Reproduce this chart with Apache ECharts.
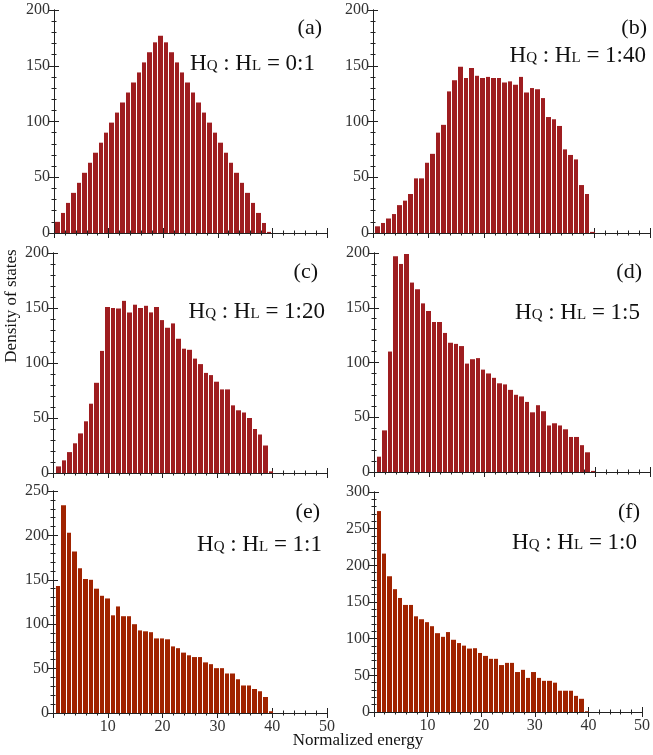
<!DOCTYPE html>
<html><head><meta charset="utf-8">
<script src="https://cdn.jsdelivr.net/npm/echarts@6/dist/echarts.min.js"></script>
<style>html,body{margin:0;padding:0;background:#fff}#c{width:653px;height:755px}</style>
</head><body><div id="c"></div>
<script>
// ---------------- data ----------------
const panelLetters = ['(a)', '(b)', '(c)', '(d)', '(e)', '(f)'];
const ratioLabels = ['0:1', '1:40', '1:20', '1:5', '1:1', '1:0'];
const yMaxes = [200, 200, 200, 200, 250, 300];
const xTickMax = 50;
const densityA = [10,18,27,36,45,54,63,72,81,90,99,108,117,126,135,144,153,162,171,177,171,162,153,144,135,126,117,108,99,90,81,72,63,54,45,36,27,18,9,1];
const densityB = [6,9,13,17,25,29,35,49,49,63,71,90,97,127,137,149,139,148,141,139,140,139,139,135,136,133,140,126,130,129,121,104,102,96,75,70,66,43,35,1];
const densityC = [6,11.5,19,27,36,47,63,82,111,151,150,149.5,156.5,146,153,150,152,146,151,139,132,136,122,113,112,104,99,91,89,83,76,76,61.5,57,55,50,40,35,25,1.5];
const densityD = [14,38,110,197,190,199,173,167,154,147,137,137,127,118,117,115,99,103,104,93.5,90,86,81,80,75,70.5,69,64,54.5,61,55.5,42.5,44.5,42.5,39,32,32,24.5,18,1];
const densityE = [143,234,203,182,163,151,150,140,132,129,110,120,109,109,100,93,92,91,84,84,83,75,73,68,65,63,63,57,55,50.5,50.5,44.5,44.5,38,31,31,27,24.5,18,2];
const densityF = [274,216,185,167.5,155.5,146,146,130.5,126.5,122.5,117,107.5,102.5,109,98.5,94,90.5,86.5,87,80.5,76.5,72.5,72.5,64,67,67,54.5,57.5,46.5,54.5,46.5,42.5,42.5,40,29,29,29,22,18,1];
const densities = [densityA, densityB, densityC, densityD, densityE, densityF];
const binStarts = [0.2, 0.42, 0.6, 0.48, 0.55, 0.48];
const binWidth = 0.995;

// ---------------- layout / style ----------------
const grids = [
  {left: 54, top: 10, width: 273, height: 223},
  {left: 373, top: 10, width: 277, height: 223},
  {left: 53, top: 253, width: 274, height: 220},
  {left: 374, top: 253, width: 276, height: 219},
  {left: 53, top: 491, width: 274, height: 222},
  {left: 374, top: 492, width: 276, height: 220}
];
const barColors = ['#9e1d20', '#9e1d20', '#9e1d20', '#9e1d20', '#a02300', '#a02300'];
const serif = 'Liberation Serif, Times New Roman, serif';
const lineCol = '#222';
const ratioPos = [[315, 64], [646, 56], [325, 312], [640, 313], [322, 545], [637, 543]];
const letterPos = [[322, 28], [647, 28], [318, 272], [642, 272], [320, 512], [640, 512]];

const xAxes = [], yAxes = [], series = [], graphics = [];
grids.forEach((g, i) => {
  const common = {
    gridIndex: i, type: 'value', min: 0,
    axisLine: {show: true, lineStyle: {color: lineCol, width: 1}},
    axisTick: {show: true, inside: true, length: 5, lineStyle: {color: lineCol}},
    minorTick: {show: true, splitNumber: 5, length: 2.5, lineStyle: {color: lineCol}},
    splitLine: {show: false},
    minorSplitLine: {show: false}
  };
  xAxes.push(Object.assign({}, common, {
    position: 'bottom', max: xTickMax, interval: 10,
    axisLabel: {show: i >= 4, showMinLabel: false, fontFamily: serif, fontSize: 16, color: '#333', margin: 6}
  }));
  xAxes.push(Object.assign({}, common, {
    position: 'top', max: xTickMax, interval: 10, axisLabel: {show: false}
  }));
  yAxes.push(Object.assign({}, common, {
    position: 'left', max: yMaxes[i], interval: 50,
    axisLabel: {show: true, fontFamily: serif, fontSize: 16, color: '#333', margin: 4}
  }));
  yAxes.push(Object.assign({}, common, {
    position: 'right', max: yMaxes[i], interval: 50, axisLabel: {show: false}
  }));
  const vals = densities[i];
  const color = barColors[i];
  series.push({
    type: 'custom',
    xAxisIndex: 2 * i, yAxisIndex: 2 * i,
    clip: true,
    encode: {x: [0, 1], y: 2},
    data: vals.map((v, k) => [binStarts[i] + k * binWidth, binStarts[i] + (k + 1) * binWidth, v]),
    renderItem(params, api) {
      const p0 = api.coord([api.value(0), api.value(2)]);
      const p1 = api.coord([api.value(1), 0]);
      const xa = Math.round(p0[0]);
      const xb = Math.round(p1[0]) - 1;
      return {
        type: 'rect',
        shape: {x: xa, y: p0[1], width: Math.max(xb - xa, 1), height: p1[1] - p0[1]},
        style: {fill: color}
      };
    }
  });
  graphics.push({
    type: 'text', x: ratioPos[i][0], y: ratioPos[i][1], z: 100,
    style: {
      text: '{h|H}{s|Q}{h| : H}{s|L}{h| = ' + ratioLabels[i] + '}',
      align: 'right', verticalAlign: 'middle',
      rich: {
        h: {fontFamily: serif, fontSize: 23, fill: '#111', verticalAlign: 'bottom'},
        s: {fontFamily: serif, fontSize: 15, fill: '#111', verticalAlign: 'bottom', padding: [0, 0, 2, 0]}
      }
    }
  });
  graphics.push({
    type: 'text', x: letterPos[i][0], y: letterPos[i][1], z: 100,
    style: {text: panelLetters[i], align: 'right', verticalAlign: 'middle', font: '22px ' + serif, fill: '#111'}
  });
});

graphics.push({
  type: 'text', x: 12, y: 306, rotation: Math.PI / 2, z: 100,
  style: {text: 'Density of states', align: 'center', verticalAlign: 'middle', font: '17px ' + serif, fill: '#111'}
});
graphics.push({
  type: 'text', x: 358, y: 741, z: 100,
  style: {text: 'Normalized energy', align: 'center', verticalAlign: 'middle', font: '17px ' + serif, fill: '#111'}
});

const chart = echarts.init(document.getElementById('c'), null, {renderer: 'canvas'});
chart.setOption({
  animation: false,
  backgroundColor: '#fff',
  grid: grids.map(g => Object.assign({containLabel: false}, g)),
  xAxis: xAxes,
  yAxis: yAxes,
  series: series,
  graphic: graphics
});
</script>
</body></html>
